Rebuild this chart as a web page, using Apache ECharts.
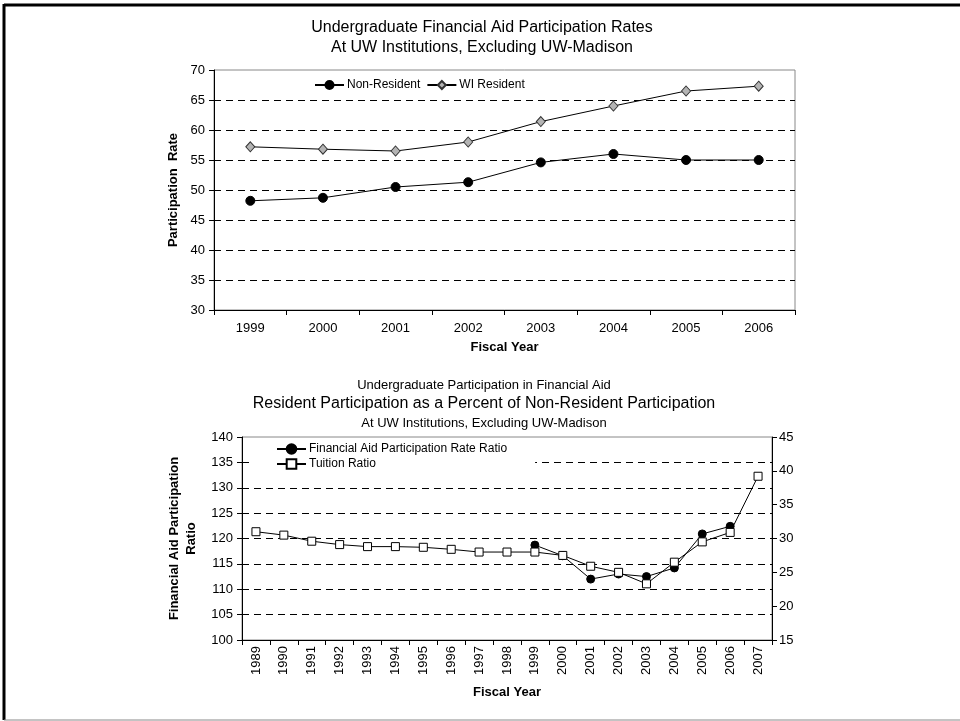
<!DOCTYPE html>
<html>
<head>
<meta charset="utf-8">
<script src="https://cdn.jsdelivr.net/npm/echarts@6/dist/echarts.min.js"></script>
<style>
html,body{margin:0;padding:0;background:#fff;}
#chart{width:960px;height:721px;}
</style>
</head>
<body>
<div id="chart"></div>
<script>
// ---- Top chart data ----
const topYears = ['1999','2000','2001','2002','2003','2004','2005','2006'];
const nonResident = [48.2, 48.7, 50.5, 51.3, 54.6, 56.0, 55.0, 55.0];
const wiResident = [57.2, 56.8, 56.5, 58.0, 61.4, 64.0, 66.5, 67.3];

// ---- Bottom chart data ----
const bottomYears = ['1989','1990','1991','1992','1993','1994','1995','1996','1997','1998','1999','2000','2001','2002','2003','2004','2005','2006','2007'];
const aidRatio = [null,null,null,null,null,null,null,null,null,null,118.7,116.6,112.0,113.0,112.5,114.2,120.9,122.4,null];
const tuitionRatio = [31.0,30.5,29.6,29.1,28.8,28.8,28.7,28.4,28.0,28.0,28.0,27.5,25.9,25.0,23.3,26.5,29.5,30.9,39.2];

const FONT = "'Liberation Sans', Arial, sans-serif";
const gridDash = [7,5];
function splitColors(n){ const a=[]; for(let i=0;i<n-1;i++) a.push('#000'); a.push('rgba(0,0,0,0)'); return a; }

const chart = echarts.init(document.getElementById('chart'), null, {renderer:'canvas'});
const option = {
  animation:false,
  textStyle:{fontFamily:FONT,color:'#000'},
  title:[
    {text:'Undergraduate Financial Aid Participation Rates\nAt UW Institutions, Excluding UW-Madison',
     left:482, top:18, textAlign:'center', padding:0,
     textStyle:{fontFamily:FONT,fontSize:16,fontWeight:'normal',color:'#000',lineHeight:20}},
    {text:'Undergraduate Participation in Financial Aid', left:484, top:377, textAlign:'center', padding:0,
     textStyle:{fontFamily:FONT,fontSize:13,fontWeight:'normal',color:'#000',lineHeight:16}},
    {text:'Resident Participation as a Percent of Non-Resident Participation', left:484, top:395, textAlign:'center', padding:0,
     textStyle:{fontFamily:FONT,fontSize:16,fontWeight:'normal',color:'#000',lineHeight:18}},
    {text:'At UW Institutions, Excluding UW-Madison', left:484, top:415, textAlign:'center', padding:0,
     textStyle:{fontFamily:FONT,fontSize:13,fontWeight:'normal',color:'#000',lineHeight:16}}
  ],
  legend:[
    {data:['Non-Resident','WI Resident'], left:314, top:79, orient:'horizontal', padding:0,
     itemWidth:29, itemHeight:10, itemGap:6,
     textStyle:{fontFamily:FONT,fontSize:12,color:'#000',padding:[0,0,0,-2]}},
    {data:['Financial Aid Participation Rate Ratio','Tuition Ratio'], left:250, top:440, orient:'vertical',
     padding:[3,28,3,26], backgroundColor:'#fff', itemWidth:29, itemHeight:12, itemGap:3,
     textStyle:{fontFamily:FONT,fontSize:12,color:'#000',padding:[0,0,0,-2]}}
  ],
  grid:[
    {left:214, top:70, width:581, height:240, show:true, borderColor:'#888', borderWidth:1, backgroundColor:'transparent'},
    {left:242, top:437, width:530, height:203, show:true, borderColor:'#888', borderWidth:1, backgroundColor:'transparent'}
  ],
  xAxis:[
    {type:'category', gridIndex:0, data:topYears, boundaryGap:true,
     axisLine:{lineStyle:{color:'#000',width:1}},
     axisTick:{show:true, length:5, lineStyle:{color:'#000'}},
     axisLabel:{fontFamily:FONT,fontSize:13,color:'#000',margin:12},
     name:'Fiscal Year', nameLocation:'middle', nameGap:31,
     nameTextStyle:{fontFamily:FONT,fontSize:13,fontWeight:'bold',color:'#000'}},
    {type:'category', gridIndex:1, data:bottomYears, boundaryGap:true,
     axisLine:{lineStyle:{color:'#000',width:1}},
     axisTick:{show:true, length:5, lineStyle:{color:'#000'}},
     axisLabel:{fontFamily:FONT,fontSize:13,color:'#000',margin:6,rotate:90,interval:0},
     name:'Fiscal Year', nameLocation:'middle', nameGap:46,
     nameTextStyle:{fontFamily:FONT,fontSize:13,fontWeight:'bold',color:'#000'}}
  ],
  yAxis:[
    {type:'value', gridIndex:0, min:30, max:70, interval:5,
     axisLine:{show:true,lineStyle:{color:'#000'}},
     axisTick:{show:true,length:5,lineStyle:{color:'#000'}},
     axisLabel:{fontFamily:FONT,fontSize:13,color:'#000',margin:9},
     splitLine:{show:true,lineStyle:{color:splitColors(9),type:gridDash,width:1}},
     name:'Participation  Rate', nameLocation:'middle', nameGap:29,
     nameTextStyle:{fontFamily:FONT,fontSize:13,fontWeight:'bold',color:'#000'}},
    {type:'value', gridIndex:1, min:100, max:140, interval:5,
     axisLine:{show:true,lineStyle:{color:'#000'}},
     axisTick:{show:true,length:5,lineStyle:{color:'#000'}},
     axisLabel:{fontFamily:FONT,fontSize:13,color:'#000',margin:9},
     splitLine:{show:true,lineStyle:{color:splitColors(9),type:gridDash,width:1}},
     name:'Financial Aid Participation\nRatio', nameLocation:'middle', nameGap:35,
     nameTextStyle:{fontFamily:FONT,fontSize:13,fontWeight:'bold',color:'#000',lineHeight:17}},
    {type:'value', gridIndex:1, position:'right', min:15, max:45, interval:5,
     axisLine:{show:true,lineStyle:{color:'#000'}},
     axisTick:{show:true,length:5,lineStyle:{color:'#000'}},
     axisLabel:{fontFamily:FONT,fontSize:13,color:'#000',margin:7},
     splitLine:{show:false}}
  ],
  series:[
    {name:'Non-Resident', type:'line', xAxisIndex:0, yAxisIndex:0, data:nonResident,
     symbol:'circle', symbolSize:9, lineStyle:{color:'#000',width:1},
     itemStyle:{color:'#000',borderColor:'#000',borderWidth:1}},
    {name:'WI Resident', type:'line', xAxisIndex:0, yAxisIndex:0, data:wiResident,
     symbol:'diamond', symbolSize:[9,10], lineStyle:{color:'#000',width:1},
     itemStyle:{color:'#b4b4b4',borderColor:'#333',borderWidth:1}},
    {name:'Financial Aid Participation Rate Ratio', type:'line', xAxisIndex:1, yAxisIndex:1, data:aidRatio,
     symbol:'circle', symbolSize:8, connectNulls:false, lineStyle:{color:'#000',width:1},
     itemStyle:{color:'#000',borderColor:'#000',borderWidth:1}},
    {name:'Tuition Ratio', type:'line', xAxisIndex:1, yAxisIndex:2, data:tuitionRatio,
     symbol:'rect', symbolSize:8, lineStyle:{color:'#000',width:1},
     itemStyle:{color:'#fff',borderColor:'#000',borderWidth:1}}
  ],
  graphic:[
    {type:'line', shape:{x1:4,y1:5,x2:960,y2:5}, style:{stroke:'#000',lineWidth:3}, silent:true},
    {type:'line', shape:{x1:4,y1:4,x2:4,y2:720}, style:{stroke:'#000',lineWidth:3}, silent:true},
    {type:'line', shape:{x1:4,y1:720,x2:960,y2:720}, style:{stroke:'#888',lineWidth:1}, silent:true}
  ]
};
chart.setOption(option);
</script>
</body>
</html>
